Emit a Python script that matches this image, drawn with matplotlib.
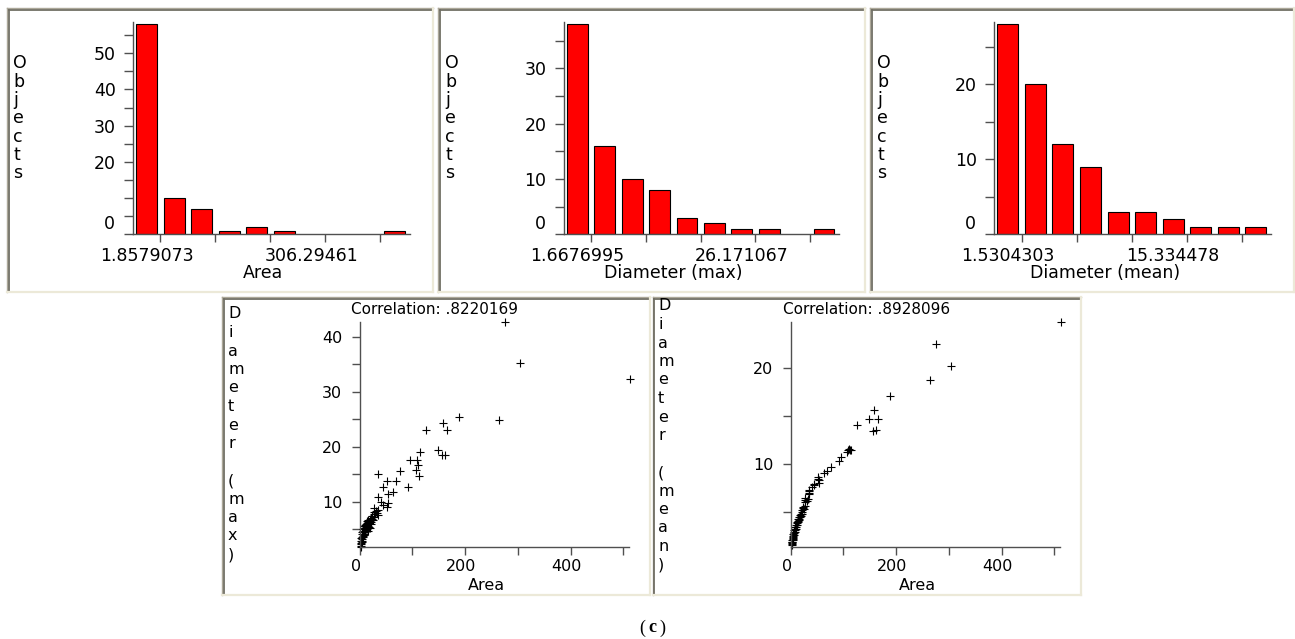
import matplotlib
matplotlib.use('Agg')
import matplotlib.pyplot as plt
from matplotlib.lines import Line2D
from matplotlib.transforms import ScaledTranslation

W, H = 1295, 639

# histogram counts, 10 bins each
area_counts = [58, 10, 7, 1, 2, 1, 0, 0, 0, 1]
dmax_counts = [38, 16, 10, 8, 3, 2, 1, 1, 0, 1]
dmean_counts = [28, 20, 12, 9, 3, 3, 2, 1, 1, 1]
area_bin_lbls = ['1.8579073', '306.29461']
dmax_bin_lbls = ['1.6676995', '26.171067']
dmean_bin_lbls = ['1.5304303', '15.334478']

# per object values (scatter plots)
area = [512, 276, 303, 265, 188, 158, 166, 126, 149, 156, 161, 115, 96, 109, 111, 107,
        112, 77, 91, 68, 64, 51, 54, 45, 54, 51, 45, 41, 35, 35, 35, 35, 28, 28, 28, 23,
        1.9, 2.1, 2.4, 2.6, 2.9, 3.2, 3.5, 3.8, 4.1, 4.5, 4.9, 5.3, 5.7, 6.1, 6.5, 7.0,
        7.4, 7.9, 8.4, 8.9, 9.4, 10.0, 10.6, 11.2, 11.8, 12.4, 13.0, 13.7, 14.4, 15.1,
        15.8, 16.5, 17.3, 18.1, 18.9, 19.7, 20.5, 21.4, 22.3, 23.5, 24.8, 26.2, 30.0, 32.5]
diam_max = [32.3, 42.6, 35.2, 24.9, 25.3, 24.2, 23.0, 23.0, 19.4, 18.5, 18.5, 19.0, 17.5,
            17.5, 16.7, 15.8, 14.7, 15.5, 12.7, 13.8, 11.7, 13.8, 11.4, 12.6, 9.7, 9.0,
            9.4, 10.0, 15.0, 10.8, 8.5, 7.6, 8.8, 8.1, 7.2, 6.8,
            1.8, 2.4, 2.0, 2.9, 2.3, 3.3, 2.6, 3.6, 2.9, 4.1, 3.2, 4.4, 3.5, 4.7, 3.8, 5.0,
            4.0, 5.2, 4.2, 5.5, 4.5, 5.7, 4.7, 6.0, 5.0, 5.3, 6.2, 5.1, 6.4, 5.6, 4.6, 6.6,
            5.4, 6.1, 5.2, 6.8, 5.9, 7.0, 6.3, 7.4, 6.6, 7.8, 8.3, 7.9]
diam_mean = [24.8, 22.5, 20.2, 18.75, 17.1, 15.7, 14.75, 14.1, 14.75, 13.5, 13.6, 11.45,
             10.8, 11.45, 11.6, 11.3, 11.5, 9.75, 10.3, 9.3, 9.1, 8.7, 8.4, 7.85, 8.0, 8.5,
             7.9, 7.6, 7.3, 7.2, 7.0, 6.9, 6.5, 6.3, 6.1, 5.6,
             1.55, 1.7, 1.75, 1.95, 1.9, 2.15, 2.1, 2.35, 2.25, 2.55, 2.45, 2.75, 2.6, 2.95,
             2.8, 3.15, 2.95, 3.3, 3.15, 3.5, 3.3, 3.7, 3.5, 3.85, 3.7, 3.95, 4.1, 3.95,
             4.3, 4.15, 4.5, 4.3, 4.7, 4.5, 4.85, 4.65, 5.05, 4.85, 5.2, 5.4, 5.3, 5.7,
             6.2, 6.4]
corr_max = '.8220169'
corr_mean = '.8928096'

plt.rcParams['font.family'] = 'DejaVu Sans'
axc = '#505050'

fig = plt.figure(figsize=(W / 100, H / 100), dpi=100)
fig.patch.set_facecolor('white')


def fx(x):
    return x / W


def fy(y):
    return 1 - y / H


def add_ax(x0, y0, x1, y1):
    return fig.add_axes([fx(x0), fy(y1), (x1 - x0) / W, (y1 - y0) / H])


def frame(x0, y0, x1, y1):
    for xs, ys, c, lw in [([x0, x0], [y1, y0], '#ACA899', 1.0),
                          ([x0, x1], [y0, y0], '#ACA899', 1.0),
                          ([x0 + 1.5, x0 + 1.5], [y1, y0 + 1.5], '#716F64', 1.3),
                          ([x0 + 1.5, x1], [y0 + 1.5, y0 + 1.5], '#716F64', 1.3),
                          ([x1, x1], [y0, y1], '#ECE9D8', 1.6),
                          ([x0, x1], [y1, y1], '#ECE9D8', 1.6)]:
        fig.add_artist(Line2D([fx(v) for v in xs], [fy(v) for v in ys],
                              transform=fig.transFigure, color=c, lw=lw))


def vert_label(word, x, y, step, size):
    for i, ch in enumerate(word):
        fig.text(fx(x), fy(y + i * step), ch, ha='left', va='center', fontsize=size)


def style_axes(ax):
    for s in ['top', 'right']:
        ax.spines[s].set_visible(False)
    for s in ['left', 'bottom']:
        ax.spines[s].set_color(axc)
        ax.spines[s].set_linewidth(1.0)
    ax.set_facecolor('white')


# ---- histograms ----
hists = [(area_counts, area_bin_lbls, 'Area', 0, 133, 409.5, 263, [20, 30, 40, 50]),
         (dmax_counts, dmax_bin_lbls, 'Diameter (max)', 432, 563.7, 839.3, 673.7, [10, 20, 30]),
         (dmean_counts, dmean_bin_lbls, 'Diameter (mean)', 864, 994, 1271.3, 1104.7, [10, 20])]
frame(7, 8, 433, 292)
frame(438, 8, 865, 292)
frame(870, 8, 1294, 292)

for counts, blbls, xlab, off, ax0, ax1, labx, shown in hists:
    ax = add_ax(ax0, 21.7, ax1, 234.3)
    style_axes(ax)
    idx = [i for i, c in enumerate(counts) if c > 0]
    ax.bar(idx, [counts[i] for i in idx], width=0.76, color='#FF0000',
           edgecolor='black', linewidth=0.8)
    top = max(counts)
    ax.set_xlim(-0.5, 9.56)
    ax.set_ylim(0, top * 1.012)
    yt = list(range(0, top + 1, 5))
    ax.set_yticks(yt)
    ax.set_yticklabels([str(v) if v in shown else '' for v in yt])
    ax.set_xticks([0.5, 2.5, 4.5, 6.5, 8.5])
    ax.set_xticklabels([])
    ax.set_xticks([0, 6], minor=True)
    ax.set_xticklabels(blbls, minor=True)
    ax.tick_params(axis='y', length=6.5, width=1, color=axc, pad=6, labelsize=12.5)
    ax.tick_params(axis='x', which='major', length=6, width=1, color=axc)
    ax.tick_params(axis='x', which='minor', length=0, pad=9, labelsize=12.5)
    ax.annotate('0', xy=(0, 0), xycoords='axes fraction', xytext=(-13, 7.5),
                textcoords='offset points', ha='right', va='center', fontsize=12.5)
    fig.text(fx(labx), fy(273), xlab, ha='center', va='center', fontsize=12.5)
    vert_label('Objects', off + 13, 63.3, 18.3, 12.5)

# ---- scatter plots ----
frame(222, 297, 650, 595)
frame(653, 297, 1081, 595)

scat = [(diam_max, corr_max, 'Diameter (max)', 218, 359.7, 628.7, (1.7, 42.7),
         [10, 20, 30, 40], 314, 434.7, 486),
        (diam_mean, corr_mean, 'Diameter (mean)', 648, 790.7, 1059.7, (1.35, 24.86),
         [10, 20], 306, 866.3, 917)]
shift = ScaledTranslation(-4 / 100, 0, fig.dpi_scale_trans)
for ys, corr, ylab, off, ax0, ax1, ylim, shown, ly0, cx, lx in scat:
    ax = add_ax(ax0, 321.7, ax1, 547.3)
    style_axes(ax)
    ax.plot(area, ys, linestyle='none', marker='+', color='black', markersize=5.5,
            markeredgewidth=0.8, clip_on=False)
    ax.set_xlim(0, 510)
    ax.set_ylim(*ylim)
    yt = list(range(5, int(ylim[1]) + 1, 5))
    ax.set_yticks(yt)
    ax.set_yticklabels([str(v) if v in shown else '' for v in yt])
    xt = [0, 100, 200, 300, 400, 500]
    ax.set_xticks(xt)
    ax.set_xticklabels([str(v) if v in (0, 200, 400) else '' for v in xt])
    ax.tick_params(axis='both', length=5.5, width=1, color=axc, labelsize=11.5)
    ax.tick_params(axis='y', pad=7)
    ax.tick_params(axis='x', pad=3)
    for t in ax.get_xticklabels():
        t.set_transform(t.get_transform() + shift)
    fig.text(fx(cx), fy(309), 'Correlation: ' + corr, ha='center', va='center', fontsize=11)
    fig.text(fx(lx), fy(586), 'Area', ha='center', va='center', fontsize=11.5)
    vert_label(ylab, off + 10, ly0, 18.5, 11.5)

# caption
fig.text(fx(645), fy(628), '(', ha='right', va='center', fontsize=13, family='Liberation Serif')
fig.text(fx(652), fy(628), 'c', ha='center', va='center', fontsize=13,
         family='Liberation Serif', weight='bold')
fig.text(fx(659), fy(628), ')', ha='left', va='center', fontsize=13, family='Liberation Serif')

fig.savefig('out.png', dpi=100, facecolor='white')
